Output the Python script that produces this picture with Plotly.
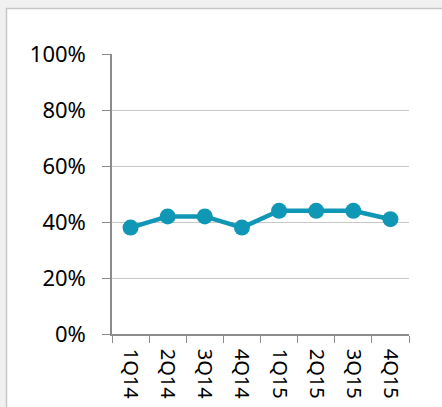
import plotly.graph_objects as go

quarters = ["1Q14", "2Q14", "3Q14", "4Q14", "1Q15", "2Q15", "3Q15", "4Q15"]
share = [0.38, 0.42, 0.42, 0.38, 0.44, 0.44, 0.44, 0.41]

W, H = 442, 407
L, R, T, B = 112, 33, 54, 73
pw, ph = W - L - R, H - T - B

def px_x(p):
    return (p - L) / pw

def px_y(p):
    return (H - B - p) / ph

teal = "#0f97b5"
font = dict(family="Noto Sans", size=22, color="#000000")

fig = go.Figure()
fig.add_trace(go.Scatter(
    x=quarters, y=share, mode="lines+markers",
    line=dict(color=teal, width=4.5),
    marker=dict(color=teal, size=16),
    cliponaxis=False, showlegend=False,
))

# white chart card with a thin grey frame on a light grey page
fig.add_shape(type="rect", xref="paper", yref="paper", layer="below",
              x0=px_x(6.5), x1=px_x(460), y0=px_y(8.5), y1=px_y(440),
              fillcolor="white", line=dict(color="#c6c6c6", width=1.5))

fig.update_layout(
    width=W, height=H,
    margin=dict(l=L, r=R, t=T, b=B),
    paper_bgcolor="#f0f0f0", plot_bgcolor="rgba(0,0,0,0)",
    font=font,
)
fig.update_yaxes(
    range=[0, 1], tickvals=[0, 0.2, 0.4, 0.6, 0.8, 1.0], tickformat=".0%",
    showgrid=True, gridcolor="#c8c8c8", gridwidth=1,
    showline=True, linecolor="#8c8c8c", linewidth=1.5,
    ticks="outside", ticklen=8, tickcolor="#8c8c8c",
    ticklabelstandoff=12, zeroline=False, tickfont=font, automargin=False,
)
fig.update_xaxes(
    type="category", range=[-0.5, 7.5], tickangle=90, tickson="boundaries",
    showgrid=False, showline=True, linecolor="#8c8c8c", linewidth=1.5,
    ticks="outside", ticklen=7, tickcolor="#8c8c8c", automargin=False,
    ticklabelstandoff=9, tickfont=dict(family="Noto Sans", size=20, color="#000000"),
)

fig.write_html("out.html")
